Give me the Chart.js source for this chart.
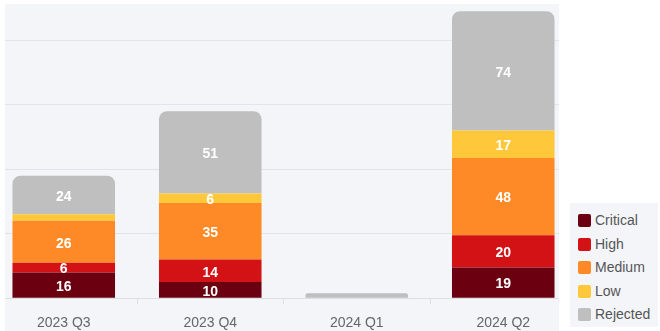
<!DOCTYPE html>
<html>
<head>
<meta charset="utf-8">
<script src="https://cdn.jsdelivr.net/npm/chart.js@4"></script>
<style>
  body { margin: 0; background: #fff; width: 660px; height: 331px; overflow: hidden; position: relative; font-family: Arial, "Liberation Sans", sans-serif; }
  #painel { position: absolute; left: 5px; top: 4px; width: 554px; height: 327px; background: #f4f5f9; overflow: hidden; }
  #grafico { position: absolute; left: -25px; top: 0; }
  #legenda { position: absolute; left: 570px; top: 203px; width: 88px; height: 124px; background: #f4f5f9; }
  #legenda div { position: absolute; left: 8px; height: 16px; line-height: 16px; font-size: 14px; color: #555; white-space: nowrap; }
  #legenda span { display: inline-block; width: 13px; height: 13px; border-radius: 2px; vertical-align: -2px; margin-right: 4px; }
</style>
</head>
<body>
<div id="painel"><canvas id="grafico" width="610" height="327"></canvas></div>
<div id="legenda"></div>
<script>
var quarters = ['2023 Q3', '2023 Q4', '2024 Q1', '2024 Q2'];

var critical = [16, 10, 0, 19];
var high = [6, 14, 0, 20];
var medium = [26, 35, 0, 48];
var low = [4, 6, 0, 17];
var rejected = [24, 51, 3, 74];

var series = ['Critical', 'High', 'Medium', 'Low', 'Rejected'];
var colors = ['#6b0011', '#d31215', '#fd8a26', '#fec83a', '#bfbfbf'];

Chart.defaults.font.family = 'Arial, "Liberation Sans", sans-serif';

// numeros brancos dentro dos segmentos
var barLabels = {
  id: 'barLabels',
  afterDatasetsDraw: function (chart) {
    var ctx = chart.ctx;
    ctx.save();
    ctx.fillStyle = '#fff';
    ctx.font = 'bold 14px Arial, "Liberation Sans", sans-serif';
    ctx.textAlign = 'center';
    ctx.textBaseline = 'middle';
    chart.data.datasets.forEach(function (ds, i) {
      var meta = chart.getDatasetMeta(i);
      meta.data.forEach(function (bar, j) {
        var v = ds.data[j];
        if (v < 5) return;
        ctx.fillText(v, bar.x, (bar.y + bar.base) / 2 + 2);
      });
    });
    ctx.restore();
  }
};

var values = [critical, high, medium, low, rejected];
var datasets = [];
for (var i = 0; i < series.length; i++) {
  datasets.push({
    label: series[i],
    data: values[i],
    backgroundColor: colors[i],
    borderRadius: 8,
    barPercentage: 0.7,
    categoryPercentage: 1
  });
}

var chart = new Chart(document.getElementById('grafico'), {
  type: 'bar',
  data: { labels: quarters, datasets: datasets },
  options: {
    responsive: false,
    animation: false,
    layout: { padding: { left: 10.5, right: 13.5, top: 4, bottom: -12 } },
    plugins: { legend: { display: false }, tooltip: { enabled: false } },
    scales: {
      x: {
        stacked: true,
        grid: { drawOnChartArea: false, drawTicks: true, tickLength: 6, color: '#dcdfe6' },
        border: { color: '#dcdfe6' },
        ticks: { color: '#666', padding: 11, font: { size: 14 } }
      },
      y: {
        stacked: true,
        min: 0,
        max: 180,
        ticks: { display: false, stepSize: 40 },
        border: { display: false },
        grid: {
          drawTicks: false,
          color: function (c) { return c.tick.value % 40 === 0 ? '#e1e4ea' : 'transparent'; }
        }
      }
    }
  },
  plugins: [barLabels]
});

// legenda em html
var legenda = document.getElementById('legenda');
chart.data.datasets.forEach(function (ds, i) {
  var item = document.createElement('div');
  item.style.top = (9 + i * 23.6) + 'px';
  item.innerHTML = '<span style="background:' + ds.backgroundColor + '"></span>' + ds.label;
  legenda.appendChild(item);
});
</script>
</body>
</html>
